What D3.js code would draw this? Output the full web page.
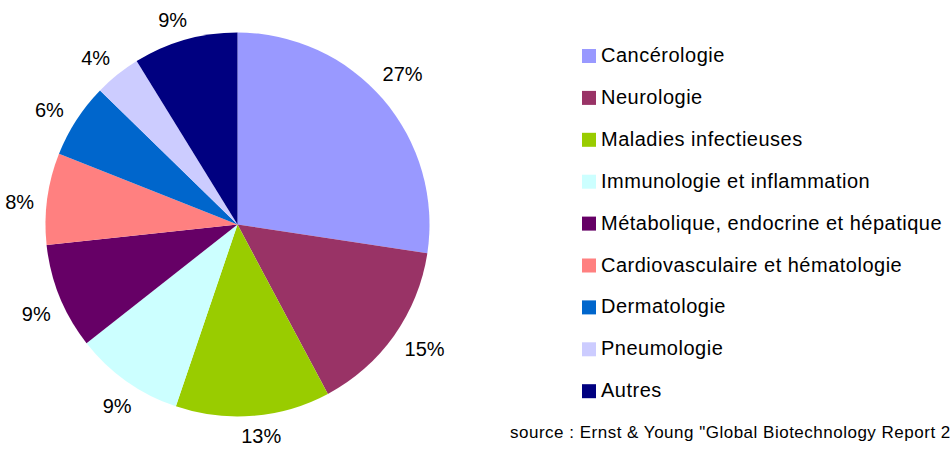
<!DOCTYPE html>
<html>
<head>
<meta charset="utf-8">
<script src="https://cdn.jsdelivr.net/npm/d3@7"></script>
<style>
  body { margin: 0; background: #fff; }
  svg { display: block; font-family: "Liberation Sans", Arial, sans-serif; }
</style>
</head>
<body>
<svg id="pie" width="950" height="450"></svg>
<script>
// categories and shares
var categories = ["Cancérologie", "Neurologie", "Maladies infectieuses", "Immunologie et inflammation",
                  "Métabolique, endocrine et hépatique", "Cardiovasculaire et hématologie",
                  "Dermatologie", "Pneumologie", "Autres"];
var shares = [27.4, 14.8, 13.0, 9.2, 8.9, 7.7, 6.3, 3.9, 8.8];
var colors = ["#9999ff", "#993366", "#99cc00", "#ccffff", "#660066", "#ff8080", "#0066cc", "#ccccff", "#000080"];
var sourceText = "source : Ernst & Young \"Global Biotechnology Report 2008\"";

var svg = d3.select("#pie"),
    cx = 237.5, cy = 224.5, radius = 192;

var data = categories.map(function(c, i) { return {name: c, value: shares[i]}; });

var color = d3.scaleOrdinal().domain(categories).range(colors);

var pie = d3.pie().sort(null).value(function(d) { return d.value; });
var arc = d3.arc().innerRadius(0).outerRadius(radius);

var g = svg.append("g").attr("transform", "translate(" + cx + "," + cy + ")");

var arcs = pie(data);

g.selectAll("path")
  .data(arcs)
  .enter().append("path")
    .attr("d", arc)
    .attr("fill", function(d) { return color(d.data.name); });

// percent labels outside the pie
var labels = g.selectAll("text.pct")
  .data(arcs)
  .enter().append("text")
    .attr("class", "pct")
    .attr("font-size", 20)
    .attr("fill", "#000")
    .attr("text-anchor", "middle")
    .attr("dy", "0.35em")
    .text(function(d) { return Math.round(d.data.value) + "%"; });

labels.each(function(d) {
  var w = this.getComputedTextLength(), h = 14,
      a = (d.startAngle + d.endAngle) / 2 - 0.03,
      s = Math.sin(a), c = -Math.cos(a),
      dist = radius + 12 + Math.abs(s) * w / 2 + Math.abs(c) * h / 2;
  d3.select(this).attr("x", s * dist).attr("y", c * dist);
});

// legend
var legend = svg.append("g")
  .selectAll("g")
  .data(categories)
  .enter().append("g")
    .attr("transform", function(d, i) { return "translate(582," + (49 + i * 41.9) + ")"; });

legend.append("rect")
    .attr("width", 14)
    .attr("height", 14)
    .attr("fill", color);

legend.append("text")
    .attr("x", 19)
    .attr("y", 13)
    .attr("font-size", 20)
    .attr("letter-spacing", 0.5)
    .attr("fill", "#000")
    .text(function(d) { return d; });

svg.append("text")
    .attr("x", 510)
    .attr("y", 438)
    .attr("font-size", 17)
    .attr("letter-spacing", 0.5)
    .attr("fill", "#000")
    .text(sourceText);
</script>
</body>
</html>
